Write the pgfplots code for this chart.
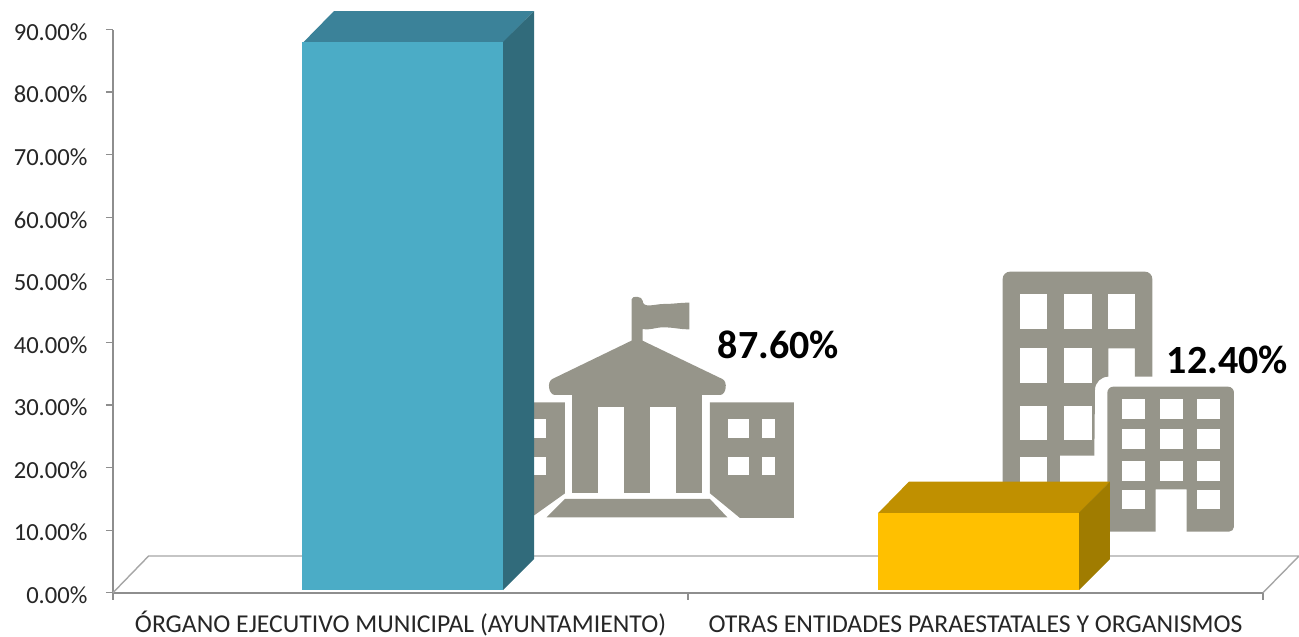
\documentclass[border=0pt]{standalone}
\usepackage{fontspec}
\setmainfont{Carlito}
\usepackage{pgfplots}
\pgfplotsset{compat=1.18}
\definecolor{icon}{HTML}{96958A}
\definecolor{axgray}{HTML}{8E8E8E}
\definecolor{floorgray}{HTML}{A6A6A6}
\definecolor{tealF}{HTML}{4BACC6}
\definecolor{tealT}{HTML}{3B8299}
\definecolor{tealS}{HTML}{316B7B}
\definecolor{goldF}{HTML}{FFC000}
\definecolor{goldT}{HTML}{C09000}
\definecolor{goldS}{HTML}{A07C00}
\begin{document}
\begin{tikzpicture}[x=1pt,y=-1pt]
\path[use as bounding box] (0,0) rectangle (1299,637);
% civic building icon
\begin{scope}[x=0.33333pt,y=-0.33333pt,shift={(1560,840)}]
\fill[icon] (335,185) -- (335,58) to[out=90,in=90] (368,62) to[out=-90,in=180] (430,72) to[out=0,in=180] (508,68) -- (508,148) to[out=180,in=0] (430,142) to[out=180,in=-10] (368,147) -- (368,185) -- cycle;
\fill[icon] (351,174) -- (607,297) to[out=-25,in=0] (600,345) -- (105,345) to[out=180,in=205] (97,297) -- cycle;
\fill[icon] (157,340) rectangle (547,640);
\fill[white] (235,380) rectangle (313,642);
\fill[white] (390,380) rectangle (468,642);
\fill[icon] (135,657) -- (570,657) -- (622,712) -- (80,712) -- cycle;
\fill[icon] (570,367) -- (822,367) -- (822,714) -- (660,714) -- (570,640) -- cycle;
\fill[white] (623,417) rectangle (686,473);
\fill[white] (725,417) rectangle (764,473);
\fill[white] (623,530) rectangle (686,584);
\fill[white] (725,530) rectangle (764,584);
\fill[icon] (0,367) -- (135,367) -- (135,640) -- (44,705) -- (0,735) -- cycle;
\fill[white] (0,417) rectangle (78,473);
\fill[white] (0,530) rectangle (78,584);
\end{scope}
% office buildings icon
\begin{scope}[x=0.33333pt,y=-0.33333pt,shift={(2580,780)}]
\fill[icon] (450,35) -- (855,35) to[out=0,in=90] (877,57) -- (877,350) -- (825,350) -- (825,265) -- (745,265) -- (745,350) to[out=180,in=90] (705,390) -- (703,587) -- (600,587) -- (600,800) -- (428,800) -- (428,57) to[out=90,in=180] (450,35) -- cycle;
\foreach \xa/\xb in {480/562,613/695,745/825}{\fill[white] (\xa,103) rectangle (\xb,208);}
\fill[white] (480,265) rectangle (562,370);
\fill[white] (613,265) rectangle (695,370);
\fill[white] (480,437) rectangle (562,540);
\fill[white] (613,437) rectangle (695,540);
\fill[white] (480,590) rectangle (562,800);
\fill[icon] (760,380) -- (1104,380) to[out=0,in=90] (1122,398) -- (1122,800) to[out=-90,in=0] (1107,815) -- (980,815) -- (980,688) -- (887,688) -- (887,815) -- (742,815) -- (742,398) to[out=90,in=180] (760,380) -- cycle;
\foreach \xa/\xb in {785/856,900/968,1010/1080}{
  \fill[white] (\xa,418) rectangle (\xb,476);
  \fill[white] (\xa,508) rectangle (\xb,567);
  \fill[white] (\xa,603) rectangle (\xb,662);}
\fill[white] (785,690) rectangle (856,748);
\fill[white] (1010,690) rectangle (1080,748);
\end{scope}
\begin{axis}[
  at={(113pt,-592.7pt)},anchor=origin,
  scale only axis,
  width=1150pt,height=563.2pt,
  xmin=0,xmax=2,ymin=0,ymax=90,
  axis x line*=bottom,axis y line*=left,
  clip=false,
  axis line style={draw=axgray,line width=1.6pt,-},
  tick style={draw=axgray,line width=1.2pt},
  tick align=outside,
  major tick length=7pt,
  xtick={0,1,2},xticklabels={},
  extra x ticks={0.5,1.5},
  extra x tick labels={ÓRGANO EJECUTIVO MUNICIPAL (AYUNTAMIENTO),OTRAS ENTIDADES PARAESTATALES Y ORGANISMOS},
  extra x tick style={major tick length=0pt,tick label style={font=\fontsize{25.7pt}{28pt}\selectfont,text height=17pt,text depth=3.5pt,inner sep=0pt,anchor=north,yshift=-23pt}},
  ytick={0,10,20,30,40,50,60,70,80,90},
  yticklabels={0.00\%,10.00\%,20.00\%,30.00\%,40.00\%,50.00\%,60.00\%,70.00\%,80.00\%,90.00\%},
  yticklabel style={font=\fontsize{24.6pt}{27pt}\selectfont,xshift=-15pt,yshift=-2.5pt},
  ticklabel style={text=black!85},
]
% floor
\addplot[draw=floorgray,line width=1.4pt] coordinates {(0,0) (0.0619,5.86) (2.0626,5.86) (2,0)};
% bar 1
\addplot[fill=tealT,draw=none] coordinates {(0.3304,87.9) (0.6783,87.9) (0.7322,92.95) (0.3843,92.95)} -- cycle;
\addplot[fill=tealS,draw=none] coordinates {(0.6783,0.4) (0.7322,5.35) (0.7322,92.95) (0.6783,88)} -- cycle;
\addplot[ybar,bar width=201pt,bar shift=0pt,fill=tealF,draw=none,yshift=2.5pt] coordinates {(0.5043,87.6)};
% bar 2
\addplot[fill=goldT,draw=none] coordinates {(1.3304,12.7) (1.68,12.7) (1.7339,17.75) (1.3843,17.75)} -- cycle;
\addplot[fill=goldS,draw=none] coordinates {(1.68,0.4) (1.7339,5.35) (1.7339,17.75) (1.68,12.8)} -- cycle;
\addplot[ybar,bar width=201pt,bar shift=0pt,fill=goldF,draw=none,yshift=2.5pt] coordinates {(1.5052,12.4)};
\node[font=\fontsize{40pt}{42pt}\selectfont\bfseries,text=black] at (axis cs:1.157,39.55) {87.60\%};
\node[font=\fontsize{40pt}{42pt}\selectfont\bfseries,text=black] at (axis cs:1.938,37.25) {12.40\%};
\end{axis}
\end{tikzpicture}
\end{document}
